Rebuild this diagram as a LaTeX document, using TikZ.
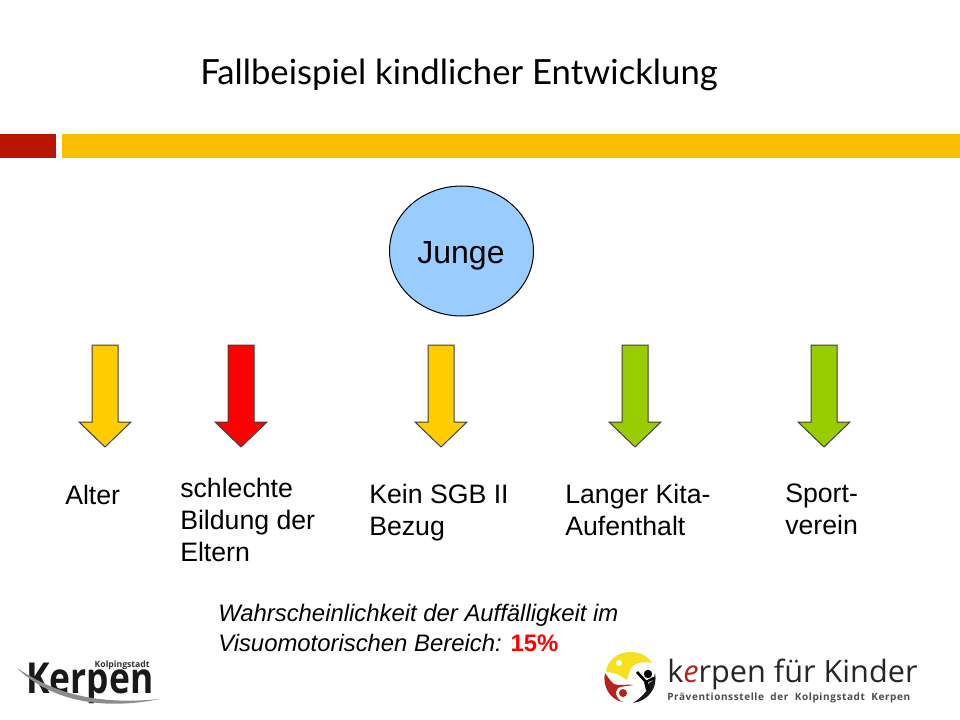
\documentclass[tikz,border=0pt]{standalone}
\usepackage{fontspec}
\usetikzlibrary{shapes.geometric}
\setmainfont{Liberation Sans}
\newfontfamily\titlefont{Lato}
\newfontfamily\logofont{Open Sans}
\newfontfamily\praefont[LetterSpace=6]{Open Sans}
\definecolor{barred}{HTML}{B91500}
\definecolor{baryellow}{HTML}{F9BF00}
\definecolor{ballblue}{HTML}{99CCFF}
\definecolor{arrowyellow}{HTML}{FFCC00}
\definecolor{arrowgreen}{HTML}{99CC00}
\definecolor{logored}{HTML}{B5231C}
\definecolor{logoyellow}{HTML}{F7E11E}
\tikzset{
  downarrow/.style={draw=black!75,line width=0.75pt,line join=miter},
  lbl/.style={anchor=north west,align=left,inner sep=0pt,font=\fontsize{20}{24}\selectfont},
}
\newcommand{\downarr}[2]{%
  \path[downarrow,fill=#2] (#1-13,345) -- (#1+13,345) -- (#1+13,422) -- (#1+26,422) -- (#1,447) -- (#1-26,422) -- (#1-13,422) -- cycle;}
\begin{document}
\begin{tikzpicture}[x=0.75pt,y=-0.75pt]
\useasboundingbox (0,0) rectangle (960,720);
\fill[white] (0,0) rectangle (960,720);
\node[anchor=base west,inner sep=0pt,font=\titlefont\fontsize{26}{30}\selectfont] (title) at (200,85) {Fallbeispiel kindlicher Entwicklung};
\fill[barred] (0,134) rectangle (56,158);
\fill[baryellow] (62,134) rectangle (960,158);
\node[ellipse,draw=black,line width=0.75pt,fill=ballblue,minimum width=108pt,minimum height=97.5pt,inner sep=0pt] (junge) at (461.5,251) {};
\node[inner sep=0pt,font=\fontsize{24}{28}\selectfont] (jungelabel) at (461,256) {Junge};
\downarr{105}{arrowyellow}
\downarr{241}{red}
\downarr{441}{arrowyellow}
\downarr{635}{arrowgreen}
\downarr{824}{arrowgreen}
\node[lbl] (alter) at (65,485) {Alter};
\node[lbl] (bildung) at (180,478) {schlechte\\Bildung der\\Eltern};
\node[lbl] (sgb) at (369,484) {Kein SGB II\\Bezug};
\node[lbl] (kita) at (565,484) {Langer Kita-\\Aufenthalt};
\node[lbl] (sport) at (785,484) {Sport-\\verein};
\node[anchor=north west,align=left,inner sep=0pt,font=\fontsize{17.9}{22.5}\selectfont] (wahr) at (218,604) {\textit{Wahrscheinlichkeit der Auffälligkeit im}\\\textit{Visuomotorischen Bereich: }\textcolor{red}{\textbf{15\%}}};
% Kerpen logo
\node[anchor=base west,inner sep=0pt,font=\logofont\bfseries\fontsize{32}{36}\selectfont,text=black!90] (kerpen) at (26,693) {\scalebox{0.83}[1]{Kerpen}};
\node[anchor=base east,inner sep=0pt,font=\logofont\bfseries\fontsize{6.5}{8}\selectfont,text=black!80] (kolping) at (150,667) {Kolpingstadt};
\fill[black!45] (17,668) .. controls (50,690) and (90,706) .. (160,699) .. controls (100,711) and (50,700) .. (17,668);
% kerpen fuer Kinder logo
\fill[logoyellow] (606,672) .. controls (607,660) and (618,652) .. (630,652) .. controls (640,652) and (648,656) .. (652,663) .. controls (643,661) and (636,663) .. (633,666) .. controls (629,670) and (629,675) .. (627,680) .. controls (622,676) and (614,672) .. (606,672) -- cycle;
\fill[white] (619,663) circle (3);
\fill[logored] (605,673) .. controls (602,686) and (610,700) .. (623,702) .. controls (616,699) and (614,692) .. (618,688) .. controls (622,686) and (628,686) .. (634,685) .. controls (626,684) and (618,686) .. (614,684) .. controls (610,681) and (608,677) .. (605,673) -- cycle;
\fill[logored] (623,693) circle (4);
\fill[black!90] (655,673) .. controls (658,688) and (648,701) .. (633,703) .. controls (642,697) and (649,690) .. (649,683) .. controls (654,681) and (654,678) .. (655,673) -- cycle;
\fill[black] (648,674) circle (4.2);
\draw[black,line width=2pt] (637,672) -- (646,682) -- (654,678);
\draw[black,line width=3pt] (646,682) -- (648,690);
\node[anchor=base west,inner sep=0pt,font=\logofont\fontsize{23}{26}\selectfont,text=black!85] (kfk) at (667,682) {k\textcolor{logored}{\textit{e}}rpen für Kinder};
\node[anchor=base west,inner sep=0pt,font=\praefont\bfseries\fontsize{7.5}{9}\selectfont,text=black!70] (prae) at (667,700) {Präventionsstelle\ \ der\ \ Kolpingstadt\ \ Kerpen};
\end{tikzpicture}
\end{document}
